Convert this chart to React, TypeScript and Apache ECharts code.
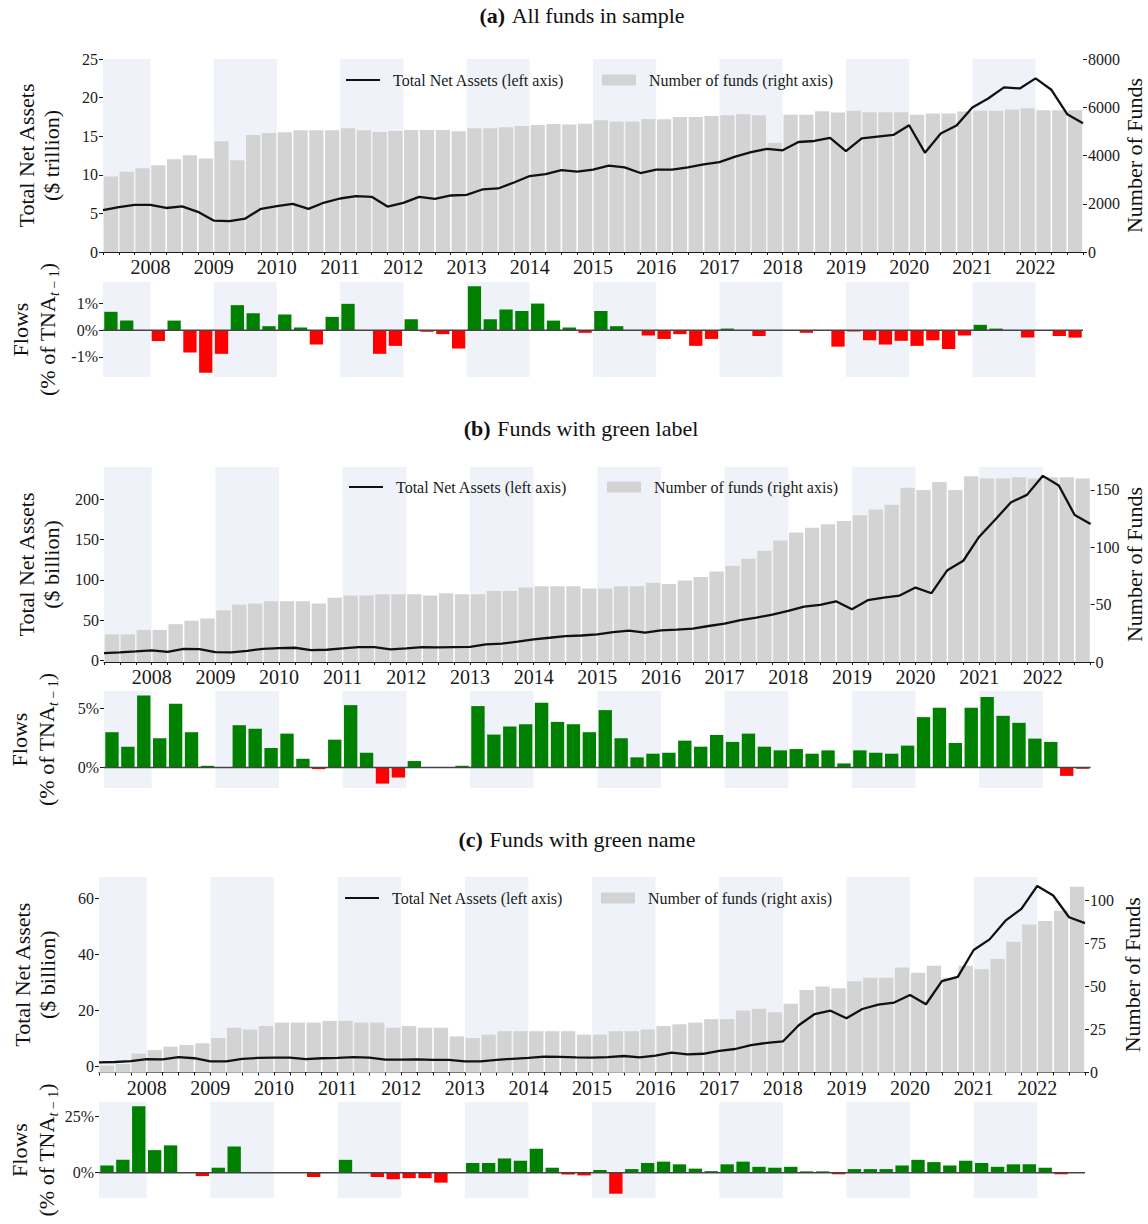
import React, { useEffect, useRef } from "react";
import * as echarts from "echarts";

const FONT = "'Liberation Serif', 'Times New Roman', serif";
const SHADE = "#eff3f9";
const BAR_GREY = "#d3d3d3";
const GREEN = "#008000";
const RED = "#ff0000";
const INK = "#1a1a1a";

// Quarterly bars: 2007Q2 .. 2022Q3 (62 bars); line points at the 63 quarter boundaries
const quarterLabels: string[] = [];
for (let y = 2007; y <= 2022; y++) {
  for (let q = 1; q <= 4; q++) {
    if ((y === 2007 && q < 2) || (y === 2022 && q > 3)) continue;
    quarterLabels.push(`${y}Q${q}`);
  }
}

const yearLabels = ["2008", "2009", "2010", "2011", "2012", "2013", "2014", "2015", "2016", "2017", "2018", "2019", "2020", "2021", "2022"];
const yearPositions = [3, 7, 11, 15, 19, 23, 27, 31, 35, 39, 43, 47, 51, 55, 59];
const shadedRanges = [[0, 3], [7, 11], [15, 19], [23, 27], [31, 35], [39, 43], [47, 51], [55, 59]];

// ---------- (a) All funds in sample ----------
const tnaA = [5.42, 5.8, 6.1, 6.1, 5.7, 5.9, 5.2, 4.07, 3.99, 4.33,
  5.59, 5.94, 6.24, 5.59, 6.41, 6.93, 7.24, 7.15, 5.89, 6.37,
  7.15, 6.89, 7.32, 7.41, 8.1, 8.23, 9.0, 9.84, 10.1, 10.6,
  10.4, 10.66, 11.18, 10.96, 10.23, 10.66, 10.66, 10.96, 11.35, 11.65,
  12.35, 12.95, 13.35, 13.17, 14.25, 14.38, 14.77, 13.08, 14.73, 14.95,
  15.16, 16.42, 12.87, 15.34, 16.38, 18.72, 19.89, 21.32, 21.19, 22.49,
  21.01, 17.85, 16.68];
const fundsA = [3130, 3330, 3470, 3600, 3840, 4010, 3880, 4590, 3800, 4850,
  4935, 4960, 5045, 5045, 5045, 5130, 5045, 4975, 5020, 5060,
  5060, 5060, 5005, 5130, 5130, 5170, 5225, 5265, 5310, 5290,
  5320, 5460, 5405, 5405, 5515, 5500, 5600, 5600, 5640, 5670,
  5710, 5670, 4530, 5685, 5685, 5835, 5780, 5850, 5795, 5795,
  5795, 5685, 5740, 5740, 5820, 5850, 5850, 5905, 5960, 5875,
  5875, 5875];
const flowsA = [0.69, 0.36, 0, -0.41, 0.36, -0.84, -1.6, -0.89, 0.94, 0.64,
  0.15, 0.59, 0.1, -0.54, 0.5, 0.99, 0, -0.89, -0.59, 0.41,
  -0.06, -0.15, -0.69, 1.65, 0.41, 0.78, 0.72, 1.0, 0.36, 0.1,
  -0.1, 0.72, 0.15, 0, -0.2, -0.33, -0.15, -0.59, -0.33, 0.06,
  0, -0.22, 0, 0, -0.1, 0, -0.62, -0.05, -0.38, -0.54,
  -0.4, -0.59, -0.38, -0.71, -0.2, 0.2, 0.06, 0, -0.28, 0,
  -0.22, -0.28];

// ---------- (b) Funds with green label ----------
const tnaB = [9.1, 10, 11.2, 12.5, 10.8, 14.5, 14.1, 10.4, 10, 12,
  14.5, 15.4, 15.8, 12.9, 13.3, 15, 16.6, 16.6, 13.7, 15,
  16.6, 16.2, 16.6, 17, 19.9, 20.8, 23.3, 26.2, 28.2, 30.3,
  31, 32.4, 35.3, 37, 34.5, 37.4, 38.2, 39.5, 42.8, 45.7,
  50.2, 53.2, 56.9, 61.5, 66.9, 68.9, 73.5, 63.5, 74.8, 78.1,
  80.6, 90.5, 83.5, 112.1, 123.8, 153.7, 174.8, 196.4, 205.6, 229.2,
  217.2, 180.6, 169.4];
const fundsB = [24, 24, 28, 28, 33, 36, 38, 45, 50, 51,
  53, 53, 53, 51, 56, 58, 58, 59, 59, 59,
  58, 60, 59, 59, 62, 62, 65, 66, 66, 66,
  64, 64, 66, 66, 69, 68, 71, 74, 79, 84,
  90, 97, 106, 113, 117, 120, 123, 128, 133, 137,
  152, 150, 157, 150, 162, 160, 160, 161, 160, 161,
  161, 160];
const flowsB = [2.97, 1.75, 6.07, 2.46, 5.37, 2.97, 0.14, 0, 3.56, 3.25,
  1.64, 2.85, 0.73, -0.14, 2.34, 5.25, 1.24, -1.36, -0.85, 0.54,
  0, 0, 0.14, 5.17, 2.77, 3.45, 3.64, 5.45, 3.84, 3.64,
  2.97, 4.83, 2.46, 0.85, 1.16, 1.24, 2.26, 1.75, 2.74, 2.15,
  2.85, 1.75, 1.44, 1.55, 1.16, 1.44, 0.34, 1.44, 1.24, 1.16,
  1.84, 4.24, 5.03, 2.06, 5.03, 5.93, 4.35, 3.76, 2.43, 2.15,
  -0.71, -0.11];

// ---------- (c) Funds with green name ----------
const tnaC = [1.43, 1.55, 1.9, 2.6, 2.5, 3.3, 2.9, 1.8, 1.8, 2.7,
  3.0, 3.1, 3.1, 2.6, 2.9, 3.0, 3.3, 3.1, 2.4, 2.4,
  2.5, 2.3, 2.3, 1.8, 1.8, 2.3, 2.7, 3.0, 3.5, 3.4,
  3.2, 3.1, 3.3, 3.7, 3.2, 3.8, 4.9, 4.3, 4.5, 5.5,
  6.2, 7.6, 8.4, 8.9, 14.7, 18.7, 19.9, 17.2, 20.5, 22.1,
  22.8, 25.5, 22.2, 30.5, 32, 41.6, 45.4, 52.1, 56.3, 64.5,
  61.1, 53.3, 51.2];
const fundsC = [4, 5, 11, 13, 15, 16, 17, 20, 26, 25,
  27, 29, 29, 29, 30, 30, 29, 29, 26, 27,
  26, 26, 21, 20, 22, 24, 24, 24, 24, 24,
  22, 22, 24, 24, 25, 27, 28, 29, 31, 31,
  36, 37, 35, 40, 48, 50, 49, 53, 55, 55,
  61, 58, 62, 55, 62, 60, 66, 76, 86, 88,
  94, 108];
const flowsC = [3.2, 5.7, 29.4, 10.0, 12.1, 0, -1.5, 2.2, 11.6, 0,
  0, 0, 0, -1.9, 0, 5.7, 0, -1.9, -2.9, -2.4,
  -2.4, -4.4, 0, 4.3, 4.3, 6.3, 5.3, 10.6, 2.2, -0.8,
  -1.2, 1.2, -9.3, 1.6, 4.3, 4.9, 3.7, 1.8, 0.7, 3.7,
  4.9, 2.6, 2.2, 2.6, 0.6, 0.6, -0.7, 1.6, 1.6, 1.6,
  3.2, 5.7, 4.7, 3.2, 5.3, 4.3, 2.6, 3.7, 3.7, 2.2,
  -0.7, 0];

const leftTicksA = [0, 5, 10, 15, 20, 25];
const rightTicksA = [0, 2000, 4000, 6000, 8000];
const flowTicksA = [-1, 0, 1];
const leftTicksB = [0, 50, 100, 150, 200];
const rightTicksB = [0, 50, 100, 150];
const flowTicksB = [0, 5];
const leftTicksC = [0, 20, 40, 60];
const rightTicksC = [0, 25, 50, 75, 100];
const flowTicksC = [0, 25];

const LINE_NAME = "Total Net Assets (left axis)";
const BAR_NAME = "Number of funds (right axis)";

const panels = [
  {
    tag: "(a)", title: "All funds in sample", titleX: 582, titleY: 15, unit: "($ trillion)",
    left: 103, right: 1083, mainTop: 59, mainBottom: 252, flowTop: 282, flowBottom: 377,
    tna: tnaA, funds: fundsA, flows: flowsA,
    leftMin: 0, leftMax: 25, leftTicks: leftTicksA,
    rightMax: 8000, rightTicks: rightTicksA,
    flowMin: -1.76, flowMax: 1.81, flowTicks: flowTicksA,
    legendY: 80, lineLegendX: 346, barLegendX: 602,
    yTitleX: 39, flowTitleX: 34, rightTitleX: 1134,
  },
  {
    tag: "(b)", title: "Funds with green label", titleX: 581, titleY: 428, unit: "($ billion)",
    left: 104, right: 1090.6, mainTop: 467, mainBottom: 662, flowTop: 691, flowBottom: 788,
    tna: tnaB, funds: fundsB, flows: flowsB,
    leftMin: -1.9, leftMax: 240.2, leftTicks: leftTicksB,
    rightMax: 170, rightTicks: rightTicksB,
    flowMin: -1.73, flowMax: 6.44, flowTicks: flowTicksB,
    legendY: 487, lineLegendX: 349, barLegendX: 607,
    yTitleX: 39, flowTitleX: 33, rightTitleX: 1134,
  },
  {
    tag: "(c)", title: "Funds with green name", titleX: 577, titleY: 839, unit: "($ billion)",
    left: 99, right: 1085, mainTop: 877, mainBottom: 1072.5, flowTop: 1102, flowBottom: 1198,
    tna: tnaC, funds: fundsC, flows: flowsC,
    leftMin: -2.2, leftMax: 67.7, leftTicks: leftTicksC,
    rightMax: 113.6, rightTicks: rightTicksC,
    flowMin: -11.2, flowMax: 31.3, flowTicks: flowTicksC,
    legendY: 898, lineLegendX: 345, barLegendX: 601,
    yTitleX: 35, flowTitleX: 33, rightTitleX: 1132,
  },
];

function buildOption() {
  const grids: any[] = [];
  const xAxes: any[] = [];
  const yAxes: any[] = [];
  const series: any[] = [];
  const legends: any[] = [];
  const graphics: any[] = [];
  const boundaries = Array.from({ length: quarterLabels.length + 1 }, (_, i) => i);
  const shadeData = shadedRanges.map(([a, b]) => [{ xAxis: a }, { xAxis: b }]);
  const tickLabel = { fontFamily: FONT, color: INK };

  panels.forEach((p) => {
    const width = p.right - p.left;
    const gMain = grids.length;
    grids.push({ left: p.left, top: p.mainTop, width, height: p.mainBottom - p.mainTop, containLabel: false, outerBoundsMode: "none" });
    const gFlow = grids.length;
    grids.push({ left: p.left, top: p.flowTop, width, height: p.flowBottom - p.flowTop, containLabel: false, outerBoundsMode: "none" });

    const xCatMain = xAxes.length;
    xAxes.push({ type: "category", gridIndex: gMain, position: "top", data: quarterLabels, show: false });
    const xValMain = xAxes.length;
    xAxes.push({
      type: "value", gridIndex: gMain, position: "bottom", min: 0, max: quarterLabels.length,
      splitLine: { show: false },
      axisLine: { show: true, onZero: false, lineStyle: { color: INK, width: 1 } },
      axisTick: { show: true, customValues: boundaries, length: 3, lineStyle: { color: INK } },
      axisLabel: {
        ...tickLabel, fontSize: 20, margin: 5, customValues: yearPositions,
        formatter: (v: number) => yearLabels[yearPositions.indexOf(Math.round(v))] ?? "",
      },
    });
    const xCatFlow = xAxes.length;
    xAxes.push({ type: "category", gridIndex: gFlow, position: "top", data: quarterLabels, show: false });
    const xValFlow = xAxes.length;
    xAxes.push({ type: "value", gridIndex: gFlow, position: "bottom", min: 0, max: quarterLabels.length, show: false });

    const yLeft = yAxes.length;
    yAxes.push({
      type: "value", gridIndex: gMain, position: "left", min: p.leftMin, max: p.leftMax,
      splitLine: { show: false }, axisLine: { show: false },
      axisTick: { show: true, customValues: p.leftTicks, length: 4, lineStyle: { color: INK } },
      axisLabel: { ...tickLabel, fontSize: 16, margin: 5, customValues: p.leftTicks, formatter: (v: number) => String(v) },
    });
    const yRight = yAxes.length;
    yAxes.push({
      type: "value", gridIndex: gMain, position: "right", min: 0, max: p.rightMax,
      splitLine: { show: false }, axisLine: { show: false },
      axisTick: { show: true, customValues: p.rightTicks, length: 4, lineStyle: { color: INK } },
      axisLabel: { ...tickLabel, fontSize: 16, margin: 5, customValues: p.rightTicks, formatter: (v: number) => String(v) },
    });
    const yFlow = yAxes.length;
    yAxes.push({
      type: "value", gridIndex: gFlow, position: "left", min: p.flowMin, max: p.flowMax,
      splitLine: { show: false }, axisLine: { show: false },
      axisTick: { show: true, customValues: p.flowTicks, length: 4, lineStyle: { color: INK } },
      axisLabel: { ...tickLabel, fontSize: 16, margin: 5, customValues: p.flowTicks, formatter: (v: number) => `${v}%` },
    });

    series.push({
      type: "bar", name: BAR_NAME, xAxisIndex: xCatMain, yAxisIndex: yRight,
      data: p.funds, barCategoryGap: "10%", itemStyle: { color: BAR_GREY }, z: 2, silent: true,
    });
    series.push({
      type: "line", name: LINE_NAME, xAxisIndex: xValMain, yAxisIndex: yLeft,
      data: p.tna.map((v, j) => [j, v]), symbol: "none", showSymbol: false,
      lineStyle: { color: "#111", width: 2.3 }, itemStyle: { color: "#111" }, z: 5, silent: true,
      markArea: { silent: true, itemStyle: { color: SHADE }, data: shadeData },
    });
    series.push({
      type: "line", xAxisIndex: xValFlow, yAxisIndex: yFlow,
      data: [[0, 0], [quarterLabels.length, 0]], symbol: "none", showSymbol: false,
      lineStyle: { color: "#444", width: 1.5 }, z: 6, silent: true,
      markArea: { silent: true, itemStyle: { color: SHADE }, data: shadeData },
    });
    series.push({
      type: "bar", xAxisIndex: xCatFlow, yAxisIndex: yFlow, barCategoryGap: "16%", z: 3, silent: true,
      data: p.flows.map((v) => ({ value: v, itemStyle: { color: v >= 0 ? GREEN : RED } })),
    });

    legends.push({
      data: [LINE_NAME], left: p.lineLegendX, top: p.legendY - 9, padding: 0,
      icon: "rect", itemWidth: 34, itemHeight: 2, selectedMode: false,
      textStyle: { fontFamily: FONT, fontSize: 16, color: INK, lineHeight: 18, padding: [0, 0, 0, 8] },
    });
    legends.push({
      data: [BAR_NAME], left: p.barLegendX, top: p.legendY - 9, padding: 0,
      icon: "rect", itemWidth: 34, itemHeight: 11, selectedMode: false,
      itemStyle: { color: BAR_GREY },
      textStyle: { fontFamily: FONT, fontSize: 16, color: INK, lineHeight: 18, padding: [0, 0, 0, 8] },
    });

    graphics.push({
      type: "text", x: p.titleX, y: p.titleY, silent: true,
      style: {
        text: `{b|${p.tag}}  {n|${p.title}}`,
        rich: {
          b: { fontFamily: FONT, fontSize: 22, fontWeight: "bold", fill: "#111" },
          n: { fontFamily: FONT, fontSize: 22, fill: "#111" },
        },
        align: "center", verticalAlign: "middle", textAlign: "center", textVerticalAlign: "middle",
      },
    });
    const mainMid = (p.mainTop + p.mainBottom) / 2;
    const flowMid = (p.flowTop + p.flowBottom) / 2;
    graphics.push({
      type: "text", x: p.yTitleX, y: mainMid, rotation: Math.PI / 2, silent: true,
      style: {
        text: `Total Net Assets\n${p.unit}`, fontFamily: FONT, fontSize: 22, lineHeight: 25, fill: "#111",
        align: "center", verticalAlign: "middle", textAlign: "center", textVerticalAlign: "middle",
      },
    });
    graphics.push({
      type: "text", x: p.flowTitleX, y: flowMid, rotation: Math.PI / 2, silent: true,
      style: {
        text: "{m|Flows}\n{m|(% of TNA}{si|t}{s| − 1}{m|)}",
        rich: {
          m: { fontFamily: FONT, fontSize: 22, lineHeight: 27, fill: "#111", verticalAlign: "middle" },
          si: { fontFamily: FONT, fontSize: 14, fontStyle: "italic", lineHeight: 16, fill: "#111", verticalAlign: "bottom" },
          s: { fontFamily: FONT, fontSize: 14, lineHeight: 16, fill: "#111", verticalAlign: "bottom" },
        },
        align: "center", verticalAlign: "middle", textAlign: "center", textVerticalAlign: "middle",
      },
    });
    graphics.push({
      type: "text", x: p.rightTitleX, y: mainMid, rotation: Math.PI / 2, silent: true,
      style: {
        text: "Number of Funds", fontFamily: FONT, fontSize: 22, fill: "#111",
        align: "center", verticalAlign: "middle", textAlign: "center", textVerticalAlign: "middle",
      },
    });
  });

  return {
    animation: false,
    backgroundColor: "#ffffff",
    textStyle: { fontFamily: FONT },
    grid: grids,
    xAxis: xAxes,
    yAxis: yAxes,
    legend: legends,
    series,
    graphic: graphics,
  };
}

export default function App() {
  const ref = useRef<HTMLDivElement>(null);
  useEffect(() => {
    if (!ref.current) return;
    const chart = echarts.init(ref.current, null, { renderer: "svg" });
    chart.setOption(buildOption() as any);
    return () => chart.dispose();
  }, []);
  return (
    <div
      ref={ref}
      style={{ position: "absolute", left: 0, top: 0, width: 1148, height: 1224, background: "#fff" }}
    />
  );
}
